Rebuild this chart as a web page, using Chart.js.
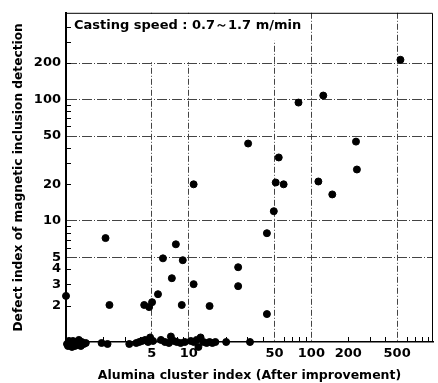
<!DOCTYPE html>
<html>
<head>
<meta charset="utf-8">
<script src="https://cdn.jsdelivr.net/npm/chart.js@4"></script>
<style>
  html, body { margin: 0; padding: 0; background: #fff; }
  #wrap { width: 438px; height: 383px; }
</style>
</head>
<body>
<div id="wrap"><canvas id="chart" width="438" height="383"></canvas></div>
<script>
// ---------------- DATA ----------------
// points above the baseline (x = alumina cluster index, y = defect index)
const upperX = [1.0, 2.1, 2.26, 4.34, 4.76, 5.03, 5.62, 6.17, 7.29, 7.86, 8.95, 8.78, 10.97, 14.8,
  10.97, 30.5, 54.2, 51.2, 59.4, 114, 148, 49.4, 43.4, 25.3, 25.3, 43.4, 532, 125, 78.5, 231, 235];
const upperY = [2.4, 7.2, 2.02, 2.02, 1.94, 2.13, 2.48, 4.9, 3.36, 6.4, 4.73, 2.02, 3.0, 1.98,
  20, 43.4, 33.3, 20.7, 20, 21.1, 16.5, 12.0, 7.9, 4.14, 2.89, 1.7, 213, 108, 94.5, 45, 26.5];

// points lying on the baseline (defect index ~ 1)
const baseX = [1.019, 1.038, 1.057, 1.077, 1.097, 1.118, 1.139, 1.16, 1.182, 1.204, 1.227, 1.25,
  1.273, 1.297, 1.321, 1.346, 1.397, 1.45, 1.95, 2.18, 3.28, 3.74, 3.95, 4.17, 4.42, 4.67, 4.85,
  5.12, 5.94, 6.4, 6.9, 7.16, 7.57, 8.0, 8.6, 9.3, 10.4, 11.0, 11.6, 12.0, 12.5, 13.2, 14.0, 14.8,
  15.6, 16.5, 20.2, 31.6];
const baseY = [0.963, 0.927, 1.02, 0.945, 0.981, 0.91, 1.02, 0.963, 0.927, 1.0, 0.945, 0.981,
  1.04, 0.963, 0.927, 1.0, 0.963, 0.981, 0.981, 0.963, 0.963, 0.981, 1.0, 1.02, 1.04, 1.0, 1.09,
  1.02, 1.04, 1.0, 0.981, 1.11, 1.02, 1.0, 0.981, 1.0, 1.02, 1.0, 1.04, 0.91, 1.09, 1.0, 0.981, 1.0,
  0.981, 1.0, 1.0, 1.0];

// axis ticks
const xTicks = [5, 10, 50, 100, 200, 500];
const xGrid = [5, 10, 50, 100, 500];
const yTicks = [2, 3, 4, 5, 10, 20, 50, 100, 200];
const yGrid = [5, 10, 50, 100, 200];
const minorVals = [2, 3, 4, 6, 7, 8, 9, 20, 30, 40, 60, 70, 80, 90, 200, 300, 400, 600, 700, 800, 900];

const noteText = 'Casting speed : 0.7～1.7 m/min';

const toPoints = (xs, ys) => xs.map((x, i) => ({ x, y: ys[i] }));
const font = 'DejaVu Sans';

// frame, inward minor ticks and the speed note
const framePlugin = {
  id: 'frame',
  beforeDatasetsDraw(chart) {
    const { ctx, chartArea: a, scales } = chart;
    // blank area behind the note
    const y200 = scales.y.getPixelForValue(200);
    ctx.save();
    ctx.fillStyle = '#fff';
    ctx.fillRect(a.left + 1, a.top + 1, scales.x.getPixelForValue(40) - a.left, y200 - a.top - 2);
    ctx.fillRect(a.left + 1, a.top + 1, scales.x.getPixelForValue(75) - a.left, 27);
    ctx.fillStyle = '#000';
    ctx.font = 'bold 13px "' + font + '"';
    ctx.textBaseline = 'middle';
    ctx.fillText(noteText, a.left + 8, a.top + 13);
    ctx.restore();
  },
  afterDraw(chart) {
    const { ctx, chartArea: a, scales } = chart;
    ctx.save();
    ctx.strokeStyle = '#000';
    ctx.lineWidth = 1;
    ctx.beginPath();
    ctx.moveTo(a.left, a.top + 0.5);
    ctx.lineTo(a.right - 0.5, a.top + 0.5);
    ctx.lineTo(a.right - 0.5, a.bottom);
    ctx.stroke();

    // minor ticks
    ctx.beginPath();
    minorVals.forEach(v => {
      const py = scales.y.getPixelForValue(v);
      if (py > a.top && py < a.bottom) {
        ctx.moveTo(a.left, Math.round(py) + 0.5);
        ctx.lineTo(a.left + 5, Math.round(py) + 0.5);
      }
      const px = scales.x.getPixelForValue(v);
      if (px > a.left && px < a.right) {
        ctx.moveTo(Math.round(px) + 0.5, a.bottom);
        ctx.lineTo(Math.round(px) + 0.5, a.bottom - 5);
      }
    });
    ctx.stroke();
    ctx.restore();
  }
};

const gridColor = (list) => (c) => (c.tick && list.includes(c.tick.value)) ? '#444' : 'rgba(0,0,0,0)';

new Chart(document.getElementById('chart'), {
  type: 'scatter',
  data: {
    datasets: [
      { data: toPoints(upperX, upperY), backgroundColor: '#000', borderColor: '#000', pointRadius: 3.5, clip: false },
      { data: toPoints(baseX, baseY), backgroundColor: '#000', borderColor: '#000', pointRadius: 3.5, clip: false }
    ]
  },
  options: {
    responsive: false,
    animation: false,
    layout: { padding: { top: 12, right: 1, left: 0, bottom: 0 } },
    plugins: { legend: { display: false }, tooltip: { enabled: false } },
    scales: {
      x: {
        type: 'logarithmic',
        min: 1,
        max: 980,
        afterBuildTicks: s => { s.ticks = xTicks.map(v => ({ value: v })); },
        afterFit: s => { s.height = 41; },
        ticks: {
          autoSkip: false,
          maxRotation: 0,
          padding: 4,
          color: '#000',
          font: { family: font, size: 13, weight: 'bold' },
          callback: v => String(v)
        },
        grid: { color: gridColor(xGrid), lineWidth: 1, drawTicks: false },
        border: { color: '#000', width: 1.5, dash: [6, 2, 1, 2] },
        title: {
          display: true,
          text: 'Alumina cluster index (After improvement)',
          color: '#000',
          font: { family: font, size: 12.5, weight: 'bold' },
          padding: { top: 0, bottom: 0 }
        }
      },
      y: {
        type: 'logarithmic',
        min: 1,
        max: 520,
        afterBuildTicks: s => { s.ticks = yTicks.map(v => ({ value: v })); },
        afterFit: s => { s.width = 66; },
        ticks: {
          autoSkip: false,
          padding: 5,
          color: '#000',
          font: { family: font, size: 13, weight: 'bold' },
          callback: v => String(v)
        },
        grid: { color: gridColor(yGrid), lineWidth: 1, drawTicks: false },
        border: { color: '#000', width: 2, dash: [10, 2, 1, 2] },
        title: {
          display: true,
          text: 'Defect index of magnetic inclusion detection',
          color: '#000',
          font: { family: font, size: 12.2, weight: 'bold' },
          padding: { top: 12, bottom: 0 }
        }
      }
    }
  },
  plugins: [framePlugin]
});
</script>
</body>
</html>
